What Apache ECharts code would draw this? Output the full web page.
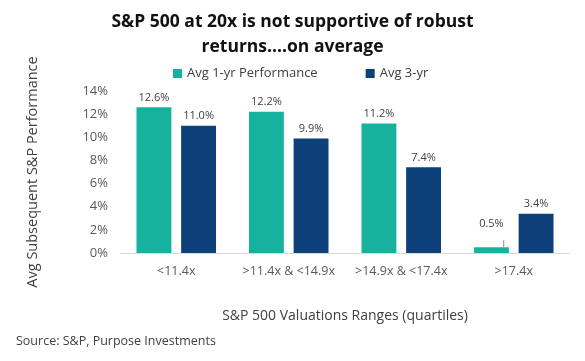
<!DOCTYPE html>
<html><head><meta charset="utf-8">
<script src="https://cdn.jsdelivr.net/npm/echarts@6/dist/echarts.min.js"></script>
<style>html,body{margin:0;padding:0;background:#fff}#c{width:585px;height:361px}</style>
</head><body><div id="c"></div>
<script>
const categories = ['<11.4x', '>11.4x & <14.9x', '>14.9x & <17.4x', '>17.4x'];
const oneYr = [12.6, 12.2, 11.2, 0.5];
const threeYr = [11.0, 9.9, 7.4, 3.4];
const yTicks = [0, 2, 4, 6, 8, 10, 12, 14];

const chart = echarts.init(document.getElementById('c'));
const font = '"Open Sans", sans-serif';
const lbl = {show: true, position: 'top', formatter: p => p.value.toFixed(1) + '%', color: '#404040', fontSize: 11, fontFamily: font, distance: 4};
chart.setOption({
  animation: false,
  title: {
    text: 'S&P 500 at 20x is not supportive of robust\nreturns....on average',
    left: 'center', top: 5,
    textStyle: {fontSize: 17.5, fontWeight: 'bold', fontFamily: '"Open Sans", sans-serif', color: '#111', lineHeight: 25}
  },
  legend: {
    top: 62, left: 168, itemGap: 48, itemWidth: 9, itemHeight: 9, icon: 'rect',
    textStyle: {fontSize: 13, color: '#404040', fontFamily: font}
  },
  grid: {left: 120, right: 15, top: 91, bottom: 108},
  xAxis: {
    type: 'category', data: categories,
    axisLine: {lineStyle: {color: '#d9d9d9'}}, axisTick: {show: false},
    axisLabel: {interval: 0, color: '#595959', fontSize: 12.5, fontFamily: font, margin: 12},
    name: 'S&P 500 Valuations Ranges (quartiles)', nameLocation: 'middle', nameGap: 56,
    nameTextStyle: {fontSize: 14, color: '#404040', fontFamily: font}
  },
  yAxis: {
    type: 'value', min: 0, max: 14, interval: 2,
    axisLabel: {formatter: v => yTicks.includes(v) ? v + '%' : '', color: '#595959', fontSize: 13, fontFamily: font, margin: 12},
    splitLine: {show: false}, axisLine: {show: false}, axisTick: {show: false},
    name: 'Avg Subsequent S&P Performance', nameLocation: 'middle', nameGap: 80,
    nameTextStyle: {fontSize: 14.5, color: '#404040', fontFamily: font}
  },
  graphic: [{type: 'text', left: 16, top: 335, style: {text: 'Source: S&P, Purpose Investments', fontSize: 12.5, fill: '#404040', fontFamily: font}}],
  series: [
    {name: 'Avg 1-yr Performance', type: 'bar', barWidth: '31%', barGap: '28%',
     itemStyle: {color: '#17B29E'}, label: lbl,
     labelLine: {show: true, lineStyle: {color: '#8c8c8c', width: 1}},
     data: oneYr.map((v, i) => i === 3 ? {value: v, label: {offset: [0, -14]}} : v)},
    {name: 'Avg 3-yr', type: 'bar', barWidth: '31%', itemStyle: {color: '#0D3F78'}, label: lbl, data: threeYr}
  ]
});
</script></body></html>
